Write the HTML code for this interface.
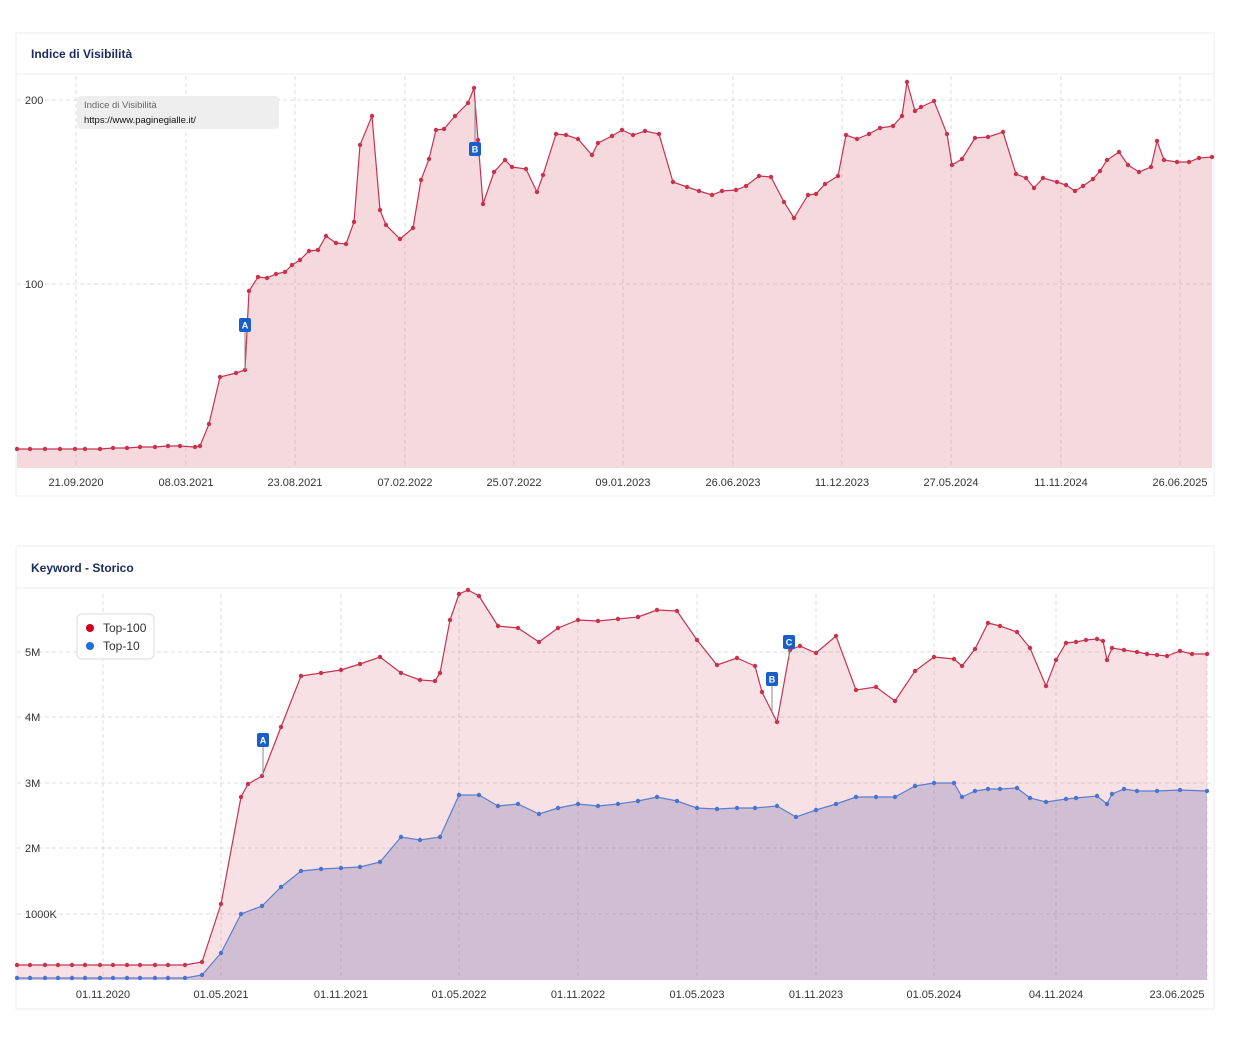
<!DOCTYPE html>
<html><head><meta charset="utf-8"><style>
body{margin:0;background:#fff;font-family:"Liberation Sans",sans-serif;}
svg{display:block}
</style></head><body>
<svg id="s" width="1244" height="1044" xmlns="http://www.w3.org/2000/svg" font-family="Liberation Sans, sans-serif">
<rect x="16" y="33" width="1198" height="463" fill="#fff" stroke="#eee"/>
<line x1="16" y1="74" x2="1214" y2="74" stroke="#eee"/>
<text x="31" y="58" font-size="12" font-weight="bold" fill="#1a2b5c">Indice di Visibilità</text>
<rect x="16" y="546" width="1198" height="463" fill="#fff" stroke="#eee"/>
<line x1="16" y1="588" x2="1214" y2="588" stroke="#eee"/>
<text x="31" y="572" font-size="12" font-weight="bold" fill="#1a2b5c">Keyword - Storico</text>
<g id="g"></g>
</svg>
<script>
const NS="http://www.w3.org/2000/svg",g=document.getElementById('g');
function el(t,a,txt){const e=document.createElementNS(NS,t);for(const k in a)e.setAttribute(k,a[k]);if(txt)e.textContent=txt;g.appendChild(e);return e;}
function grid(xs,ys,y0,y1,x0,x1){xs.forEach(x=>el('line',{x1:x,y1:y0,x2:x,y2:y1,stroke:'#ddd','stroke-dasharray':'4,3'}));ys.forEach(y=>el('line',{x1:x0,y1:y,x2:x1,y2:y,stroke:'#ddd','stroke-dasharray':'4,3'}));}
function series(p,base,fill,stroke,dot){let d='M'+p.map(q=>q.join(',')).join(' L');el('path',{d:d+` L${p[p.length-1][0]},${base} L${p[0][0]},${base} Z`,fill:fill});el('path',{d:d,fill:'none',stroke:stroke,'stroke-width':1.2});p.forEach(q=>el('circle',{cx:q[0],cy:q[1],r:2.2,fill:dot}));}
function parse(s){const a=s.trim().split(/\s*;\s*/).map(t=>t.split(/\s+/).map(Number));return a;}
function marker(x,y,l,ly){el('line',{x1:x,y1:y+6,x2:x,y2:ly,stroke:'#888'});el('rect',{x:x-6,y:y-7,width:12,height:14,rx:2,fill:'#1a5fc9'});el('text',{x:x,y:y+3.5,'font-size':9,'font-weight':'bold',fill:'#fff','text-anchor':'middle'},l);}
// top chart
grid([76,186,295,405,514,623,733,842,951,1061,1180],[100,284],76,468,17,1214);
const t1=parse(`17 449;30 449;45 449;60 449;75 449;85 449;100 449;113 448;127 448;140 447;155 447;168 446;180 446;195 447;200 446;209 424;220 377;236 373;245 370;249 291;258 277;267 278;276 274;285 272;292 265;300 260;309 251;318 250;326 236;336 243;346 244;354 222;360 145;372 116;380 210;386 225;400 239;413 228;421 180;429 159;436 130;444 129;455 116;468 103;474 88;478 140;483 204;494 172;505 160;512 167;526 169;537 192;543 175;556 134;566 135;578 139;592 155;598 143;612 136;622 130;633 135;645 131;659 134;673 182;687 187;699 191;712 195;722 191;736 190;746 186;759 176;771 177;784 202;794 218;808 195;816 194;825 184;838 176;846 135;857 139;869 134;880 128;893 126;902 116;907 82;915 111;921 107;934 101;947 134;952 165;962 159;975 138;988 137;1003 132;1016 174;1026 178;1034 188;1043 178;1057 182;1066 185;1075 191;1083 186;1093 179;1100 171;1107 160;1119 152;1128 165;1139 172;1151 167;1157 141;1164 160;1177 162;1189 162;1199 158;1212 157`);
series(t1,468,'rgba(212,90,110,0.23)','#c8324f','#c8324f');
[['200',100],['100',284]].forEach(a=>el('text',{x:25,y:a[1]+4,'font-size':11,fill:'#333'},a[0]));
[['21.09.2020',76],['08.03.2021',186],['23.08.2021',295],['07.02.2022',405],['25.07.2022',514],['09.01.2023',623],['26.06.2023',733],['11.12.2023',842],['27.05.2024',951],['11.11.2024',1061],['26.06.2025',1180]].forEach(a=>el('text',{x:a[1],y:486,'font-size':11,fill:'#333','text-anchor':'middle'},a[0]));
el('rect',{x:77,y:96,width:202,height:33,rx:4,fill:'#eee'});
el('text',{x:84,y:108,'font-size':9.5,fill:'#666'},'Indice di Visibilità');
el('text',{x:84,y:123,'font-size':9.5,fill:'#111'},'https://www.paginegialle.it/');
marker(245,325,'A',370);marker(475,149,'B',103);
// bottom chart
grid([103,221,341,459,578,697,816,934,1056,1177,1207],[652,717,783,848,914],594,980,17,1214);
const b1=parse(`17 965;30 965;45 965;58 965;72 965;85 965;100 965;113 965;127 965;140 965;155 965;168 965;185 965;202 962;221 904;241 797;248 784;262 776;281 727;301 676;321 673;341 670;360 664;380 657;401 673;420 680;435 681;440 673;450 620;459 594;468 590;479 596;498 626;518 628;539 642;558 628;578 620;598 621;618 619;638 617;657 610;677 611;697 640;717 665;737 658;755 666;762 692;777 722;790 650;800 646;816 653;836 636;856 690;876 687;895 701;915 671;934 657;954 659;962 666;975 649;988 623;1000 626;1017 632;1030 648;1046 686;1056 660;1066 643;1076 642;1086 640;1097 639;1103 641;1107 660;1112 648;1124 650;1137 652;1147 654;1157 655;1167 656;1180 651;1192 654;1207 654`);
const b2=parse(`17 978;30 978;45 978;58 978;72 978;85 978;100 978;113 978;127 978;140 978;155 978;168 978;185 978;202 975;221 953;241 914;262 906;281 887;301 871;321 869;341 868;360 867;380 862;401 837;420 840;440 837;459 795;479 795;498 806;518 804;539 814;558 808;578 804;598 806;618 804;638 801;657 797;677 801;697 808;717 809;737 808;755 808;777 806;796 817;816 810;836 804;856 797;876 797;895 797;915 786;934 783;954 783;962 797;975 791;988 789;1000 789;1017 788;1030 798;1046 802;1066 799;1076 798;1097 796;1107 804;1112 794;1124 789;1137 791;1157 791;1180 790;1207 791`);
series(b1,980,'rgba(212,90,110,0.18)','#c8324f','#c8324f');
series(b2,980,'rgba(120,110,170,0.30)','#5a7fd0','#4a73d0');
[['5M',652],['4M',717],['3M',783],['2M',848],['1000K',914]].forEach(a=>el('text',{x:25,y:a[1]+4,'font-size':11,fill:'#333'},a[0]));
[['01.11.2020',103],['01.05.2021',221],['01.11.2021',341],['01.05.2022',459],['01.11.2022',578],['01.05.2023',697],['01.11.2023',816],['01.05.2024',934],['04.11.2024',1056],['23.06.2025',1177]].forEach(a=>el('text',{x:a[1],y:998,'font-size':11,fill:'#333','text-anchor':'middle'},a[0]));
el('rect',{x:77,y:614,width:77,height:45,rx:5,fill:'#fff',stroke:'#ddd'});
el('circle',{cx:90,cy:628,r:4,fill:'#d0021b'});el('text',{x:103,y:632,'font-size':12,fill:'#333'},'Top-100');
el('circle',{cx:90,cy:646,r:4,fill:'#1a6fd9'});el('text',{x:103,y:650,'font-size':12,fill:'#333'},'Top-10');
marker(263,740,'A',776);marker(772,679,'B',712);marker(789,642,'C',660);
</script>
</body></html>
